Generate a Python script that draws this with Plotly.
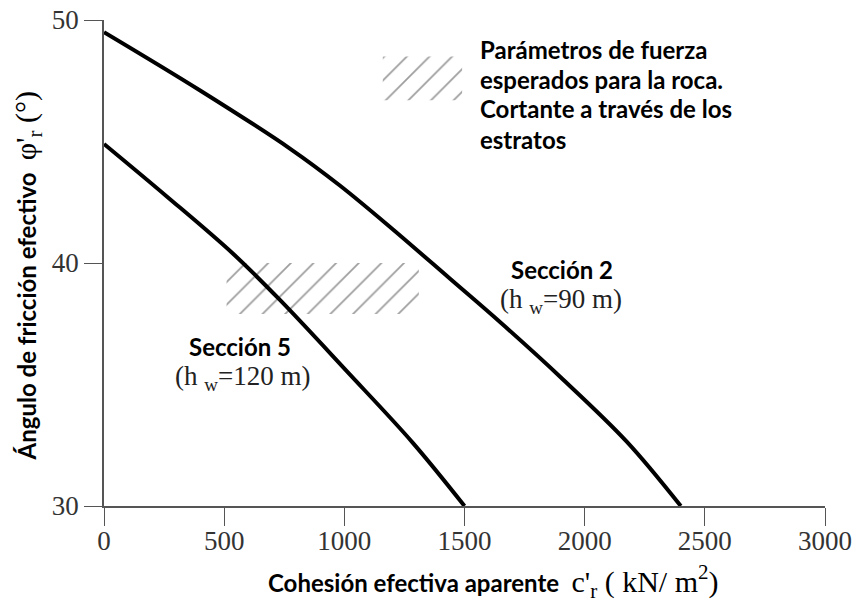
import plotly.graph_objects as go

# Critical strength envelopes (apparent cohesion vs. friction angle)
c_sec2 = [0, 400, 775, 980, 1200, 1440, 1650, 1900, 2175, 2400]
phi_sec2 = [49.5, 47.1, 44.7, 43.2, 41.4, 39.35, 37.55, 35.3, 32.65, 30]

c_sec5 = [0, 260, 535, 730, 1010, 1285, 1500]
phi_sec5 = [44.9, 42.75, 40.4, 38.5, 35.55, 32.6, 30]

# Expected rock strength ranges (hatched boxes)
rock_c = [510, 1310]
rock_phi = [37.9, 40]
strata_c = [1160, 1490]
strata_phi = [46.7, 48.5]

x_ticks = [0, 500, 1000, 1500, 2000, 2500, 3000]
y_ticks = [30, 40, 50]

SERIF = "Liberation Serif, Times New Roman, serif"
SANS = "Lato, Open Sans, sans-serif"

fig = go.Figure()


def hatched_box(cr, pr):
    xs = [cr[0], cr[1], cr[1], cr[0], cr[0]]
    ys = [pr[0], pr[0], pr[1], pr[1], pr[0]]
    return go.Scatter(
        x=xs, y=ys, mode="lines", fill="toself",
        line=dict(width=0, color="rgba(0,0,0,0)"),
        fillcolor="rgba(0,0,0,0)",
        fillpattern=dict(shape="/", size=16, solidity=0.11,
                         fgcolor="#3c3c3c", bgcolor="rgba(0,0,0,0)"),
        hoverinfo="skip", showlegend=False,
    )


fig.add_trace(hatched_box(rock_c, rock_phi))
fig.add_trace(hatched_box(strata_c, strata_phi))

for cx, py in [(c_sec2, phi_sec2), (c_sec5, phi_sec5)]:
    fig.add_trace(go.Scatter(
        x=cx, y=py, mode="lines",
        line=dict(color="black", width=4, shape="spline", smoothing=1.0),
        showlegend=False, hoverinfo="skip",
    ))

ann = []
note_lines = ["Parámetros de fuerza", "esperados para la roca.",
              "Cortante a través de los", "estratos"]
note_y = [48.80, 47.55, 46.35, 45.10]
for txt, yy in zip(note_lines, note_y):
    ann.append(dict(x=1555, y=yy, xref="x", yref="y", text="<b>%s</b>" % txt,
                    showarrow=False, xanchor="left", yanchor="middle",
                    font=dict(family=SANS, size=24, color="black")))

labels = [
    dict(x=1905, y=39.75, text="<b>Sección 2</b>",
         font=dict(family=SANS, size=24, color="black")),
    dict(x=1900, y=38.45, text="(h <sub>w</sub>=90 m)",
         font=dict(family=SERIF, size=27, color="#222")),
    dict(x=566, y=36.55, text="<b>Sección 5</b>",
         font=dict(family=SANS, size=24, color="black")),
    dict(x=578, y=35.25, text="(h <sub>w</sub>=120 m)",
         font=dict(family=SERIF, size=27, color="#222")),
]
for a in labels:
    a.update(xref="x", yref="y", showarrow=False)
ann += labels

# Axis titles mix a bold sans label with serif symbols
ann.append(dict(
    x=-0.105, y=0.473, xref="paper", yref="paper", textangle=-90,
    xanchor="center", yanchor="middle", showarrow=False,
    text=("<b>Ángulo de fricción efectivo</b>  "
          "<span style='font-family:Liberation Serif;font-size:30px'>"
          "φ'<sub>r</sub> (°)</span>"),
    font=dict(family=SANS, size=24, color="black"),
))
ann.append(dict(
    x=0.5395, y=-0.155, xref="paper", yref="paper",
    xanchor="center", yanchor="middle", showarrow=False,
    text=("<b>Cohesión efectiva aparente</b>  "
          "<span style='font-family:Liberation Serif;font-size:30px'>"
          "c'<sub>r</sub> ( kN/ m<sup>2</sup>)</span>"),
    font=dict(family=SANS, size=24, color="black"),
))

axis_common = dict(
    showgrid=False, zeroline=False, showline=True, linecolor="#555",
    linewidth=1.5, ticks="outside", ticklen=18, tickwidth=1.2,
    tickcolor="#555", tickfont=dict(family=SERIF, size=27, color="#333"),
    automargin=False,
)

fig.update_layout(
    width=857, height=602,
    margin=dict(l=104, r=32, t=20, b=96),
    paper_bgcolor="white", plot_bgcolor="white",
    xaxis=dict(range=[0, 3000], tickvals=x_ticks, ticklabelstandoff=-8,
               **axis_common),
    yaxis=dict(range=[30, 50], tickvals=y_ticks, **axis_common),
    annotations=ann,
)

fig.write_html("out.html")
